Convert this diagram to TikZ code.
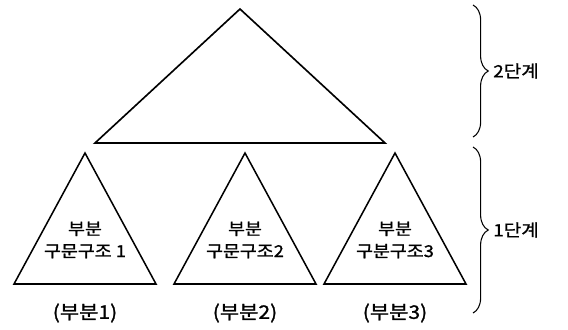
\documentclass[tikz,border=0pt]{standalone}
\usepackage{fontspec}
\newfontfamily\kr[FakeStretch=1.12,FakeBold=1.2]{Noto Sans CJK KR}
\usetikzlibrary{decorations.pathreplacing}
\begin{document}
\begin{tikzpicture}[x=0.03cm,y=-0.03cm,font=\kr]
\useasboundingbox (0,0) rectangle (568,329);
\draw[line width=1.4pt] (240,9)--(385,143)--(95,143)--cycle;
\foreach \cx/\nm/\lab/\num in {85/a/{구문구조 1}/1,245/b/{구문구조2}/2,395/c/{구분구조3}/3}{
  \draw[line width=1.3pt] (\cx,153)--(\cx+71,284)--(\cx-71,284)--cycle;
  \node[align=center,font=\kr\fontsize{14}{19}\selectfont] (\nm) at (\cx,240) {부분\\\lab};
  \node[font=\kr\fontsize{16}{18}\selectfont] (\nm-lab) at (\cx,313) {(부분\num)};
}
\draw[decorate,decoration={brace,amplitude=13pt},line width=0.9pt] (473,5)--(473,137);
\node[anchor=west,font=\kr\fontsize{14.5}{16}\selectfont,inner sep=0pt] (s2) at (493,71) {2단계};
\draw[decorate,decoration={brace,amplitude=13pt},line width=0.9pt] (473,147)--(473,313);
\node[anchor=west,font=\kr\fontsize{14.5}{16}\selectfont,inner sep=0pt] (s1) at (493,230) {1단계};
\end{tikzpicture}
\end{document}
